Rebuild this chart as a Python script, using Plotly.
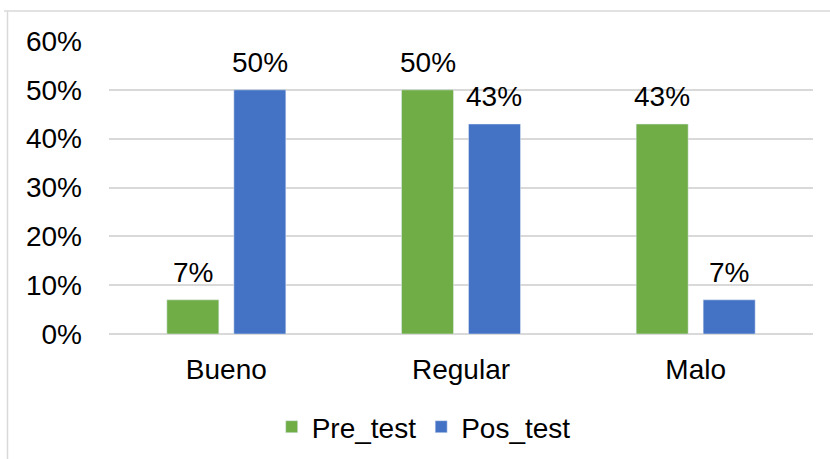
import plotly.graph_objects as go

categories = ["Bueno", "Regular", "Malo"]
pre_test = [7, 50, 43]
pos_test = [50, 43, 7]
tick_vals = [0, 10, 20, 30, 40, 50, 60]
tick_text = ["0%", "10%", "20%", "30%", "40%", "50%", "60%"]

GREEN = "#70AD47"
BLUE = "#4472C4"
FONT = "Liberation Sans, Arial, sans-serif"
FS = 28

W, H = 830, 459
L, R, T, B = 109, 17, 41, 125
pw, ph = W - L - R, H - T - B

BARGAP = 0.429
GROUPGAP = 0.224

def px(x):
    return (x - L) / pw

def py(y):
    return (H - B - y) / ph

fig = go.Figure()
fig.add_trace(go.Bar(name="Pre_test", x=categories, y=pre_test, marker_color=GREEN))
fig.add_trace(go.Bar(name="Pos_test", x=categories, y=pos_test, marker_color=BLUE))

# value labels above each bar, offset to the bar's slot within its group
slot_px = pw / len(categories) * (1 - BARGAP) / 2
annotations = []
for series, sign in ((pre_test, -1), (pos_test, 1)):
    for cat, v in zip(categories, series):
        annotations.append(dict(
            x=cat, y=v, xref="x", yref="y", text=f"{v}%", showarrow=False,
            xanchor="center", yanchor="bottom", xshift=sign * slot_px / 2, yshift=10,
            font=dict(size=FS, family=FONT, color="#000000"),
        ))

fig.update_layout(
    width=W, height=H,
    margin=dict(l=L, r=R, t=T, b=B, autoexpand=False),
    paper_bgcolor="white", plot_bgcolor="white",
    barmode="group", bargap=BARGAP, bargroupgap=GROUPGAP,
    font=dict(family=FONT, size=FS, color="#000000"),
    showlegend=True,
    legend=dict(
        orientation="h", x=0.447, xanchor="center", y=py(427), yanchor="middle",
        font=dict(size=FS, family=FONT, color="#000000"),
        itemwidth=30, traceorder="normal",
    ),
    xaxis=dict(
        showline=False, ticks="", showgrid=False,
        tickfont=dict(size=FS, family=FONT, color="#000000"),
        ticklabelstandoff=16,
    ),
    yaxis=dict(
        range=[0, 60], tickvals=tick_vals, ticktext=tick_text,
        showgrid=True, gridcolor="#D9D9D9", gridwidth=1.5,
        zeroline=True, zerolinecolor="#D9D9D9", zerolinewidth=1.5,
        showline=False, ticks="",
        tickfont=dict(size=FS, family=FONT, color="#000000"),
        ticklabelstandoff=26,
    ),
    annotations=annotations,
    shapes=[
        dict(type="line", xref="paper", yref="paper",
             x0=px(4), x1=px(830), y0=py(11), y1=py(11),
             line=dict(color="#D9D9D9", width=1.5)),
        dict(type="line", xref="paper", yref="paper",
             x0=px(7.5), x1=px(7.5), y0=py(11), y1=py(459),
             line=dict(color="#D9D9D9", width=1.5)),
    ],
)

fig.write_html("out.html")
